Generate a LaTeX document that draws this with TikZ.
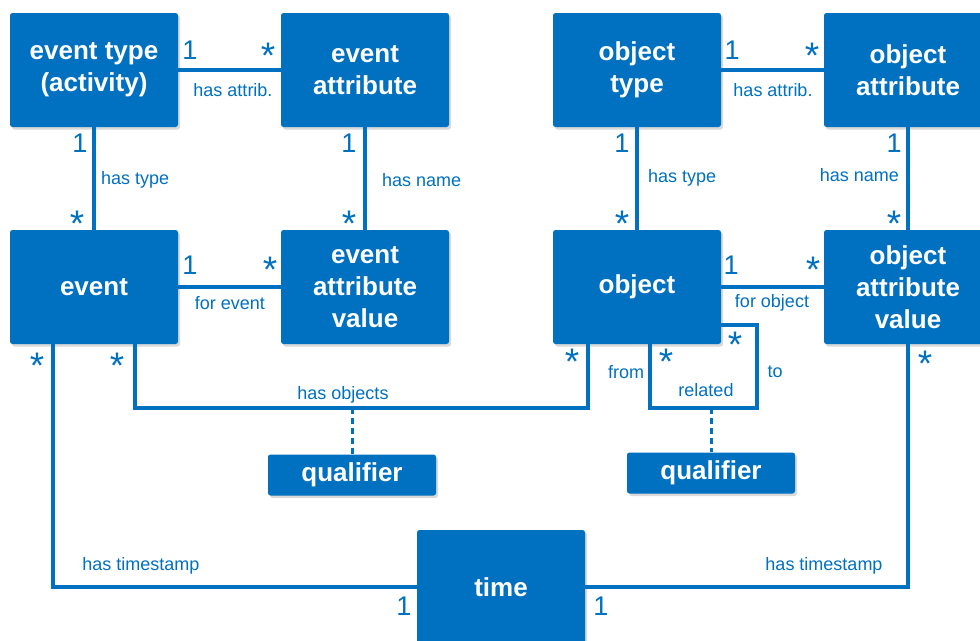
\documentclass[tikz,border=0pt]{standalone}
\usepackage{fontspec}
\setmainfont{Liberation Sans}
\usetikzlibrary{shadows}
\definecolor{ocelblue}{RGB}{0,112,192}

\begin{document}
\begin{tikzpicture}[x=1pt,y=-1pt,
  class node/.style={rectangle,rounded corners=2.5pt,fill=ocelblue,text=white,
    minimum width=168pt,minimum height=114pt,inner sep=0pt,align=center,
    font=\fontsize{26}{32}\selectfont\bfseries,
    drop shadow={shadow xshift=2pt,shadow yshift=-2.5pt,opacity=0.3}},
  qual node/.style={class node,minimum height=41pt},
  conn/.style={draw=ocelblue,line width=3.5pt},
  qual link/.style={draw=ocelblue,line width=3pt,dash pattern=on 6pt off 4pt},
  mult/.style={text=ocelblue,inner sep=0pt,font=\fontsize{27}{27}\selectfont},
  many/.style={text=ocelblue,inner sep=0pt,font=\fontsize{37}{37}\selectfont},
  role/.style={text=ocelblue,inner sep=0pt,font=\fontsize{18}{18}\selectfont}]

  \useasboundingbox (0,0) rectangle (980,640);

  \node[class node] (et) at (94,70) {event type\\(activity)};
  \node[class node] (ea) at (365,70) {event\\attribute};
  \node[class node] (ot) at (637,70) {object\\type};
  \node[class node] (oa) at (908,70) {object\\attribute};
  \node[class node] (ev) at (94,287) {event};
  \node[class node] (eav) at (365,287) {event\\attribute\\value};
  \node[class node] (ob) at (637,287) {object};
  \node[class node] (oav) at (908,287) {object\\attribute\\value};
  \node[qual node] (q1) at (352,475) {qualifier};
  \node[qual node] (q2) at (711,473) {qualifier};
  \node[class node] (tm) at (501,587) {time};

  \coordinate (tsl) at (53,587);
  \coordinate (ho1) at (135,408);
  \coordinate (ho2) at (588,408);
  \coordinate (hoq) at (352,408);
  \coordinate (rl1) at (650,408);
  \coordinate (rl2) at (757,408);
  \coordinate (rl3) at (757,325);
  \coordinate (rlq) at (711,408);

  \path[conn]
    (et) edge (ea)
    (et) edge (ev)
    (ea) edge (eav)
    (ot) edge (oa)
    (ot) edge (ob)
    (oa) edge (oav)
    (ev) edge (eav)
    (ob) edge (oav);
  \draw[conn] (ev.south -| tsl) -- (tsl) -- (tm.west);
  \draw[conn] (oav) |- (tm.east);
  \draw[conn] (ev.south -| ho1) -- (ho1) -- (ho2) -- (ob.south -| ho2);
  \draw[conn] (ob.south -| rl1) -- (rl1) -- (rl2) -- (rl3) -- (ob.east |- rl3);
  \draw[qual link] (hoq) -- (q1);
  \draw[qual link] (rlq) -- (q2);

  % multiplicities
  \node[mult] (m1) at (190,50) {1};
  \node[many] (s1) at (268,56) {*};
  \node[mult] (m2) at (80,143) {1};
  \node[many] (s2) at (77,224) {*};
  \node[mult] (m3) at (349,143) {1};
  \node[many] (s3) at (349,224) {*};
  \node[mult] (m4) at (732,50) {1};
  \node[many] (s4) at (812,56) {*};
  \node[mult] (m5) at (622,143) {1};
  \node[many] (s5) at (622,224) {*};
  \node[mult] (m6) at (894,143) {1};
  \node[many] (s6) at (894,224) {*};
  \node[mult] (m7) at (190,265) {1};
  \node[many] (s7) at (270,270) {*};
  \node[mult] (m8) at (731,265) {1};
  \node[many] (s8) at (813,270) {*};
  \node[many] (s9) at (37,366) {*};
  \node[many] (s10) at (117,366) {*};
  \node[many] (s11) at (572,362) {*};
  \node[many] (s12) at (666,362) {*};
  \node[many] (s13) at (735,345) {*};
  \node[many] (s14) at (925,364) {*};
  \node[mult] (m9) at (404,606) {1};
  \node[mult] (m10) at (601,606) {1};

  % role names
  \node[role] (r1) at (233,90) {has attrib.};
  \node[role] (r2) at (773,90) {has attrib.};
  \node[role,anchor=west] (r3) at (101,180) {has type};
  \node[role,anchor=west] (r4) at (648,178) {has type};
  \node[role,anchor=west] (r5) at (382,180) {has name};
  \node[role,anchor=east] (r6) at (899,175) {has name};
  \node[role] (r7) at (230,303) {for event};
  \node[role] (r8) at (772,303) {for object};
  \node[role] (r9) at (343,395) {has objects};
  \node[role] (r10) at (626,372) {from};
  \node[role] (r11) at (775,372) {to};
  \node[role] (r12) at (706,390) {related};
  \node[role] (r13) at (141,566) {has timestamp};
  \node[role] (r14) at (824,566) {has timestamp};
\end{tikzpicture}
\end{document}
